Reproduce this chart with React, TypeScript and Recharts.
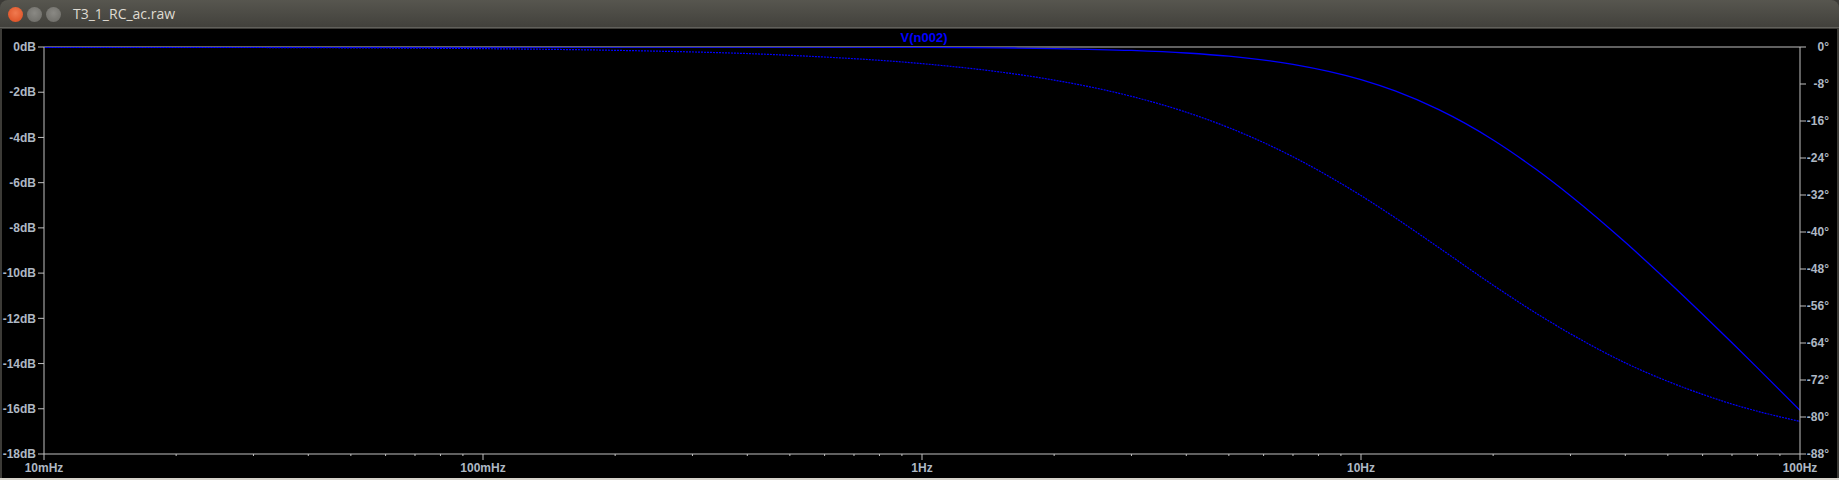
import { ComposedChart, Line, XAxis, YAxis, ReferenceLine } from 'recharts'

// AC sweep of V(n002)
const freqs = [0.01, 0.02, 0.05, 0.1, 0.2, 0.5, 1, 1.5, 2, 3, 4, 5, 7, 10, 12, 15, 20, 25, 30, 40, 50, 60, 70, 80, 100]
const magDb = [0, 0, 0, 0, -0.001, -0.004, -0.017, -0.038, -0.068, -0.152, -0.266, -0.408, -0.768, -1.444, -1.955, -2.76, -4.11, -5.4, -6.58, -8.64, -10.36, -11.82, -13.08, -14.19, -16.07]
const phaseDeg = [-0.04, -0.07, -0.18, -0.36, -0.72, -1.8, -3.6, -5.38, -7.16, -10.67, -14.1, -17.44, -23.74, -32.13, -37, -43.3, -51.5, -57.5, -62, -68.3, -72.3, -75.1, -77.2, -78.75, -80.95]

const xMajor = [0.01, 0.1, 1, 10, 100]
const xLabels = ['10mHz', '100mHz', '1Hz', '10Hz', '100Hz']
const xMinor = [
  0.02, 0.03, 0.04, 0.05, 0.06, 0.07, 0.08, 0.09,
  0.2, 0.3, 0.4, 0.5, 0.6, 0.7, 0.8, 0.9,
  2, 3, 4, 5, 6, 7, 8, 9,
  20, 30, 40, 50, 60, 70, 80, 90,
]
const dbTicks = [0, -2, -4, -6, -8, -10, -12, -14, -16, -18]
const degTicks = [0, -8, -16, -24, -32, -40, -48, -56, -64, -72, -80, -88]

const data = freqs.map((f, i) => ({ f, mag: magDb[i], phase: phaseDeg[i] }))

const AXIS = '#c0c0c0'
const TXT = '#aeb8c4'
const TRACE = '#0000ff'
const FONT = '"Liberation Sans", Arial, sans-serif'

const XTick = (props: any) => {
  const { x, y, payload } = props
  const idx = xMajor.indexOf(payload.value)
  const major = idx >= 0
  return (
    <g>
      <line x1={x} x2={x} y1={y} y2={y + (major ? 6 : 2)} stroke={AXIS} />
      {major && (
        <text x={x} y={y + 18} textAnchor="middle" fill={TXT} fontSize={12} fontWeight={700} fontFamily={FONT}>
          {xLabels[idx]}
        </text>
      )}
    </g>
  )
}

const DegTick = (props: any) => {
  const { x, y, payload } = props
  return (
    <text x={x + 20} y={y} dy="0.355em" textAnchor="end" fill={TXT} fontSize={12} fontWeight={700} fontFamily={FONT}>
      {payload.value}°
    </text>
  )
}

const winBtn = (left: number, bg: string) => (
  <div style={{ position: 'absolute', left, top: 7, width: 15, height: 15, borderRadius: 8, background: bg }} />
)

export default function App() {
  return (
    <div style={{ position: 'absolute', left: 0, top: 0, width: 1839, height: 480, background: '#3c3b37', overflow: 'hidden' }}>
      {/* window title bar */}
      <div style={{ position: 'absolute', left: 0, top: 0, width: 1839, height: 27, borderRadius: '8px 8px 0 0', background: 'linear-gradient(#57564f, #42413c)' }} />
      <div style={{ position: 'absolute', left: 0, top: 27, width: 1839, height: 1, background: '#62615c' }} />
      {winBtn(8, 'radial-gradient(circle at 50% 40%, #f07a50, #d94a1e)')}
      {winBtn(27, 'radial-gradient(circle at 50% 40%, #8a8984, #6a6964)')}
      {winBtn(46, 'radial-gradient(circle at 50% 40%, #8a8984, #6a6964)')}
      <div style={{ position: 'absolute', left: 73, top: 5, color: '#dfdbd2', fontSize: 14, fontFamily: '"Open Sans", "DejaVu Sans", sans-serif', lineHeight: '18px' }}>
        T3_1_RC_ac.raw
      </div>
      {/* plot window */}
      <div style={{ position: 'absolute', left: 2, top: 29, width: 1835, height: 449, background: '#000' }} />
      <div style={{ position: 'absolute', left: 0, top: 478, width: 1839, height: 2, background: '#d6d3cb' }} />
      <div style={{ position: 'absolute', left: 0, top: 29, width: 1840, textAlign: 'center', color: TRACE, fontSize: 13, fontWeight: 700, fontFamily: FONT, lineHeight: '18px', paddingLeft: 4 }}>
        V(n002)
      </div>
      <div style={{ position: 'absolute', left: 0, top: 0 }}>
        <ComposedChart width={1839} height={480} data={data} margin={{ top: 47, right: 0, bottom: 0, left: 0 }}>
          <XAxis
            dataKey="f"
            type="number"
            scale="log"
            domain={[0.01, 100]}
            ticks={[...xMajor, ...xMinor]}
            interval={0}
            height={26}
            tickSize={0}
            tickMargin={0}
            tickLine={false}
            axisLine={{ stroke: AXIS }}
            tick={<XTick />}
            allowDataOverflow
          />
          <YAxis
            yAxisId="left"
            domain={[-18, 0]}
            ticks={dbTicks}
            interval={0}
            width={44}
            tickSize={6}
            tickMargin={2}
            axisLine={{ stroke: AXIS }}
            tickLine={{ stroke: AXIS }}
            tickFormatter={(v: number) => `${v}dB`}
            tick={{ fill: TXT, fontSize: 12, fontWeight: 700, fontFamily: FONT }}
            allowDataOverflow
          />
          <YAxis
            yAxisId="right"
            orientation="right"
            domain={[-88, 0]}
            ticks={degTicks}
            interval={0}
            width={39}
            tickSize={6}
            tickMargin={3}
            axisLine={{ stroke: AXIS }}
            tickLine={{ stroke: AXIS }}
            tick={<DegTick />}
            allowDataOverflow
          />
          <ReferenceLine yAxisId="left" y={0} stroke={AXIS} />
          <Line yAxisId="left" type="monotone" dataKey="mag" stroke={TRACE} strokeWidth={1.3} dot={false} isAnimationActive={false} />
          <Line yAxisId="right" type="monotone" dataKey="phase" stroke={TRACE} strokeWidth={1.2} strokeDasharray="2 1" dot={false} isAnimationActive={false} />
        </ComposedChart>
      </div>
    </div>
  )
}
